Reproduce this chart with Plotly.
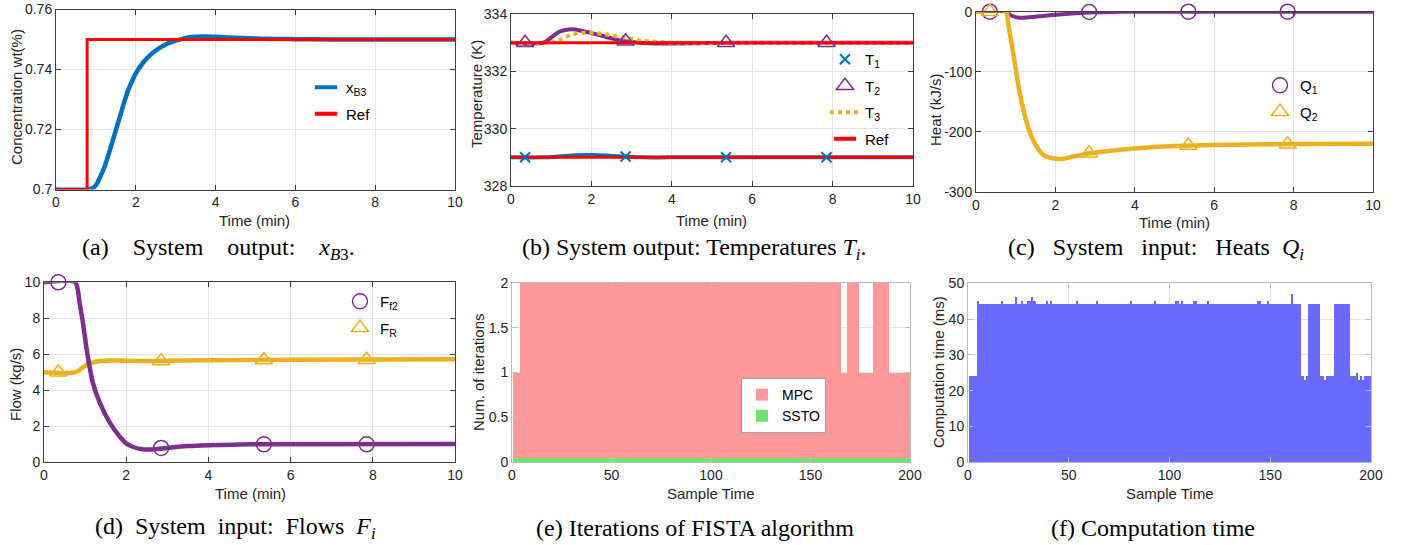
import plotly.graph_objects as go

W, H = 1407, 545

# ---------------- data ----------------
# (a) concentration x_B3
t_xb3 = [0, 0.8, 0.9, 1.0, 1.1, 1.2, 1.3, 1.4, 1.5, 1.6, 1.7, 1.8, 1.9, 2.0, 2.2,
         2.4, 2.6, 2.8, 3.0, 3.2, 3.4, 3.7, 4.0, 4.5, 5.0, 6.0, 7.0, 10.0]
xb3 = [0.7, 0.7, 0.7003, 0.7014, 0.704, 0.707, 0.7109, 0.7153, 0.7198, 0.7242, 0.7287,
       0.7328, 0.7359, 0.7387, 0.7426, 0.7453, 0.7472, 0.7487, 0.7496, 0.7503, 0.7508,
       0.751, 0.7509, 0.7506, 0.7503, 0.7501, 0.75, 0.75]
t_ref_a = [0, 0.78, 0.78, 10]
ref_a = [0.7, 0.7, 0.75, 0.75]

# (b) temperatures
t_T1 = [0, 0.8, 1.2, 1.6, 2.0, 2.4, 2.8, 3.3, 4.0, 10]
T1 = [329, 329, 329.03, 329.07, 329.08, 329.06, 329.03, 329.0, 329.0, 329.0]
t_T2 = [0, 0.8, 1.0, 1.2, 1.5, 1.8, 2.1, 2.5, 2.8, 3.2, 3.6, 4.5, 5.5, 10]
T2 = [333, 333, 333.18, 333.38, 333.47, 333.4, 333.3, 333.15, 333.06, 333.0, 332.97,
      332.98, 333.0, 333.0]
t_T3 = [0, 0.9, 1.2, 1.5, 1.9, 2.3, 2.8, 3.2, 3.6, 4.2, 10]
T3 = [333, 333, 333.1, 333.27, 333.35, 333.3, 333.18, 333.08, 333.03, 333.0, 333.0]
t_ref_b = [0, 10, None, 0, 10]
ref_b = [333, 333, None, 329, 329]

# marker sample times (every 50 samples)
t_mk = [0.35, 2.85, 5.35, 7.85]
T1_mk = [329, 329.03, 329, 329]
T2_mk = [333, 333.05, 333, 333]

# (c) heats
t_Q1 = [0, 0.78, 0.85, 1.0, 1.2, 1.4, 1.7, 2.0, 2.5, 3.0, 3.5, 4.0, 10]
Q1 = [0, 0, -5, -9, -10, -9, -7, -5, -2.5, -1, -0.3, 0, 0]
t_Q2 = [0, 0.76, 0.8, 0.9, 1.0, 1.1, 1.2, 1.3, 1.4, 1.5, 1.6, 1.7, 1.85, 2.0, 2.2,
        2.4, 2.6, 2.86, 3.36, 4.0, 5.0, 6.0, 8.0, 10.0]
Q2 = [0, 0, -15, -55, -95, -135, -165, -190, -208, -222, -232, -239, -243, -245, -245,
      -242, -239.5, -236, -232, -228, -224, -222, -220.5, -220]
Q1_mk = [0, -0.5, 0, 0]
Q2_mk = [0, -236, -223, -221]

# (d) flows
t_Ff2 = [0, 0.76, 0.87, 0.95, 1.03, 1.11, 1.19, 1.36, 1.6, 1.84, 2.0, 2.17, 2.4, 2.7,
         3.0, 3.5, 4.0, 5.0, 10]
Ff2 = [10, 10, 8.8, 7.7, 6.4, 5.3, 4.4, 3.3, 2.2, 1.43, 1.05, 0.85, 0.72, 0.72, 0.8,
       0.9, 0.95, 1.0, 1.02]
t_FR = [0, 0.75, 0.85, 0.95, 1.05, 1.15, 1.3, 1.6, 2.5, 4.0, 6.0, 10]
FR = [5.0, 5.0, 5.1, 5.28, 5.42, 5.52, 5.6, 5.65, 5.63, 5.67, 5.7, 5.72]
Ff2_mk = [10, 0.8, 1.0, 1.0]
FR_mk = [5.0, 5.63, 5.68, 5.7]

# (e) FISTA iterations per sample, (f) computation time per sample
sample = list(range(1, 201))
mpc_iter = [
    1, 1, 1, 1, 2, 2, 2, 2, 2, 2, 2, 2, 2, 2, 2, 2, 2, 2, 2, 2,
    2, 2, 2, 2, 2, 2, 2, 2, 2, 2, 2, 2, 2, 2, 2, 2, 2, 2, 2, 2,
    2, 2, 2, 2, 2, 2, 2, 2, 2, 2, 2, 2, 2, 2, 2, 2, 2, 2, 2, 2,
    2, 2, 2, 2, 2, 2, 2, 2, 2, 2, 2, 2, 2, 2, 2, 2, 2, 2, 2, 2,
    2, 2, 2, 2, 2, 2, 2, 2, 2, 2, 2, 2, 2, 2, 2, 2, 2, 2, 2, 2,
    2, 2, 2, 2, 2, 2, 2, 2, 2, 2, 2, 2, 2, 2, 2, 2, 2, 2, 2, 2,
    2, 2, 2, 2, 2, 2, 2, 2, 2, 2, 2, 2, 2, 2, 2, 2, 2, 2, 2, 2,
    2, 2, 2, 2, 2, 2, 2, 2, 2, 2, 2, 2, 2, 2, 2, 2, 2, 2, 2, 2,
    2, 2, 2, 2, 2, 1, 1, 1, 2, 2, 2, 2, 2, 2, 1, 1, 1, 1, 1, 1,
    1, 2, 2, 2, 2, 2, 2, 2, 2, 1, 1, 1, 1, 1, 1, 1, 1, 1, 1, 1,
]
ssto_iter = [
    0.05, 0.05, 0.05, 0.05, 0.05, 0.05, 0.05, 0.05, 0.05, 0.05, 0.05, 0.05, 0.05, 0.05, 0.05, 0.05, 0.05, 0.05, 0.05, 0.05,
    0.05, 0.05, 0.05, 0.05, 0.05, 0.05, 0.05, 0.05, 0.05, 0.05, 0.05, 0.05, 0.05, 0.05, 0.05, 0.05, 0.05, 0.05, 0.05, 0.05,
    0.05, 0.05, 0.05, 0.05, 0.05, 0.05, 0.05, 0.05, 0.05, 0.05, 0.05, 0.05, 0.05, 0.05, 0.05, 0.05, 0.05, 0.05, 0.05, 0.05,
    0.05, 0.05, 0.05, 0.05, 0.05, 0.05, 0.05, 0.05, 0.05, 0.05, 0.05, 0.05, 0.05, 0.05, 0.05, 0.05, 0.05, 0.05, 0.05, 0.05,
    0.05, 0.05, 0.05, 0.05, 0.05, 0.05, 0.05, 0.05, 0.05, 0.05, 0.05, 0.05, 0.05, 0.05, 0.05, 0.05, 0.05, 0.05, 0.05, 0.05,
    0.05, 0.05, 0.05, 0.05, 0.05, 0.05, 0.05, 0.05, 0.05, 0.05, 0.05, 0.05, 0.05, 0.05, 0.05, 0.05, 0.05, 0.05, 0.05, 0.05,
    0.05, 0.05, 0.05, 0.05, 0.05, 0.05, 0.05, 0.05, 0.05, 0.05, 0.05, 0.05, 0.05, 0.05, 0.05, 0.05, 0.05, 0.05, 0.05, 0.05,
    0.05, 0.05, 0.05, 0.05, 0.05, 0.05, 0.05, 0.05, 0.05, 0.05, 0.05, 0.05, 0.05, 0.05, 0.05, 0.05, 0.05, 0.05, 0.05, 0.05,
    0.05, 0.05, 0.05, 0.05, 0.05, 0.05, 0.05, 0.05, 0.05, 0.05, 0.05, 0.05, 0.05, 0.05, 0.05, 0.05, 0.05, 0.05, 0.05, 0.05,
    0.05, 0.05, 0.05, 0.05, 0.05, 0.05, 0.05, 0.05, 0.05, 0.05, 0.05, 0.05, 0.05, 0.05, 0.05, 0.05, 0.05, 0.05, 0.05, 0.05,
]
comp_ms = [
    24, 24, 24, 24, 45, 44, 44, 44, 44, 44, 44, 44, 44, 44, 44, 44, 45, 44, 44, 44,
    44, 44, 44, 46, 44, 44, 45, 44, 44, 45, 45, 46, 45, 44, 44, 44, 44, 44, 45, 44,
    45, 44, 44, 44, 44, 44, 44, 44, 44, 44, 44, 44, 44, 45, 44, 44, 44, 44, 44, 44,
    44, 44, 44, 45, 44, 44, 44, 44, 44, 44, 44, 44, 44, 44, 44, 44, 44, 44, 44, 44,
    45, 44, 44, 44, 44, 44, 44, 44, 44, 44, 44, 44, 45, 44, 44, 44, 44, 44, 44, 44,
    44, 44, 45, 45, 44, 45, 44, 44, 44, 44, 44, 45, 45, 44, 44, 44, 44, 44, 45, 44,
    44, 44, 44, 44, 44, 44, 44, 44, 44, 44, 44, 44, 44, 44, 44, 44, 44, 44, 44, 44,
    44, 44, 44, 45, 45, 44, 44, 44, 45, 44, 44, 44, 44, 44, 44, 44, 44, 44, 44, 44,
    47, 44, 44, 44, 44, 24, 23, 24, 44, 44, 44, 44, 44, 44, 24, 24, 23, 24, 24, 24,
    24, 44, 44, 44, 44, 44, 44, 44, 44, 24, 24, 24, 25, 23, 24, 23, 24, 24, 24, 24,
]

# tick labels
q_ticks = [-300, -200, -100, 0]
q_ticktext = ["-300", "-200", "-100", "0"]

NB = "\u00a0"
captions = [
    "(a)" + NB * 3 + " System" + NB * 3 + " output:" + NB * 3 + " <i>x</i><sub><i>B</i>3</sub>.",
    "(b) System output: Temperatures <i>T<sub>i</sub></i>.",
    "(c)" + NB * 2 + " System" + NB * 2 + " input:" + NB * 2 + " Heats" + NB + " <i>Q<sub>i</sub></i>",
    "(d)" + NB + " System" + NB + " input:" + NB + " Flows" + NB + " <i>F<sub>i</sub></i>",
    "(e) Iterations of FISTA algorithm",
    "(f) Computation time",
]

# ---------------- style ----------------
BLUE = "#0072BD"
RED = "#FF0000"
PURPLE = "#7E2F8E"
YELLOW = "#EDB120"
PINK = "rgb(255,152,152)"
GREEN = "rgb(110,228,110)"
BARBLUE = "rgb(106,106,255)"
SANS = "Liberation Sans, Arial, sans-serif"
SERIF = "Liberation Serif, Times New Roman, serif"
TXT = "#262626"


def px_x(p):
    return p / W


def px_y(p):
    return 1 - p / H


def xdom(l, r):
    return [px_x(l), px_x(r)]


def ydom(t, b):
    return [px_y(b), px_y(t)]


def axis(domain, rng, anchor, dtick=None, linecolor="#404040", **kw):
    d = dict(domain=domain, range=rng, anchor=anchor, showline=True, mirror="ticks",
             linecolor=linecolor, linewidth=1, ticks="inside", ticklen=5,
             tickcolor=linecolor, showgrid=True, gridcolor="#E3E3E3", gridwidth=1,
             zeroline=False, automargin=False, ticklabeloverflow="allow",
             tickfont=dict(family=SANS, size=14, color=TXT))
    if dtick is not None:
        d["dtick"] = dtick
        d["tick0"] = 0
    d.update(kw)
    return d


def line_glyph(color):
    return dict(symbol="line-ew-open", size=16, color=color, line=dict(color=color, width=4))


fig = go.Figure()

# ---- (a)
fig.add_trace(go.Scatter(x=t_xb3, y=xb3, mode="lines", line=dict(color=BLUE, width=4.5, shape="spline"),
                         xaxis="x", yaxis="y", showlegend=False))
fig.add_trace(go.Scatter(x=t_ref_a, y=ref_a, mode="lines", line=dict(color=RED, width=3),
                         xaxis="x", yaxis="y", showlegend=False))
fig.add_trace(go.Scatter(x=[None], y=[None], mode="markers", name="x<sub>B3</sub>", legend="legend",
                         legendgroup="a1", marker=line_glyph(BLUE), xaxis="x", yaxis="y"))
fig.add_trace(go.Scatter(x=[None], y=[None], mode="markers", name="Ref", legend="legend",
                         legendgroup="a2", marker=line_glyph(RED), xaxis="x", yaxis="y"))

# ---- (b)
fig.add_trace(go.Scatter(x=t_T1, y=T1, mode="lines", line=dict(color=BLUE, width=4, shape="spline"),
                         xaxis="x2", yaxis="y2", showlegend=False))
fig.add_trace(go.Scatter(x=t_T2, y=T2, mode="lines", line=dict(color=PURPLE, width=4, shape="spline"),
                         xaxis="x2", yaxis="y2", showlegend=False))
fig.add_trace(go.Scatter(x=t_T3, y=T3, mode="lines", line=dict(color=YELLOW, width=4, dash="dot", shape="spline"),
                         xaxis="x2", yaxis="y2", showlegend=False))
fig.add_trace(go.Scatter(x=t_ref_b, y=ref_b, mode="lines", line=dict(color=RED, width=3),
                         xaxis="x2", yaxis="y2", showlegend=False))
fig.add_trace(go.Scatter(x=t_mk, y=T1_mk, mode="markers", name="T<sub>1</sub>", legend="legend2",
                         legendgroup="b1", cliponaxis=False,
                         marker=dict(symbol="x-thin-open", size=10, color=BLUE, line=dict(color=BLUE, width=2)),
                         xaxis="x2", yaxis="y2"))
fig.add_trace(go.Scatter(x=t_mk, y=T2_mk, mode="markers", name="T<sub>2</sub>", legend="legend2",
                         legendgroup="b2", cliponaxis=False,
                         marker=dict(symbol="triangle-up-open", size=15, color=PURPLE, line=dict(color=PURPLE, width=1.5)),
                         xaxis="x2", yaxis="y2"))
fig.add_trace(go.Scatter(x=[None], y=[None], mode="lines", name="T<sub>3</sub>", legend="legend2",
                         legendgroup="b3", line=dict(color=YELLOW, width=4, dash="dot"),
                         xaxis="x2", yaxis="y2"))
fig.add_trace(go.Scatter(x=[None], y=[None], mode="markers", name="Ref", legend="legend2",
                         legendgroup="b4", marker=line_glyph(RED), xaxis="x2", yaxis="y2"))

# ---- (c)
fig.add_trace(go.Scatter(x=t_Q1, y=Q1, mode="lines", line=dict(color=PURPLE, width=4, shape="spline"),
                         xaxis="x3", yaxis="y3", showlegend=False))
fig.add_trace(go.Scatter(x=t_Q2, y=Q2, mode="lines", line=dict(color=YELLOW, width=4.5, shape="spline"),
                         xaxis="x3", yaxis="y3", showlegend=False))
fig.add_trace(go.Scatter(x=t_mk, y=Q1_mk, mode="markers", name="Q<sub>1</sub>", legend="legend3",
                         legendgroup="c1", cliponaxis=False,
                         marker=dict(symbol="circle-open", size=15, color=PURPLE, line=dict(color=PURPLE, width=1.5)),
                         xaxis="x3", yaxis="y3"))
fig.add_trace(go.Scatter(x=t_mk, y=Q2_mk, mode="markers", name="Q<sub>2</sub>", legend="legend3",
                         legendgroup="c2", cliponaxis=False,
                         marker=dict(symbol="triangle-up-open", size=15, color=YELLOW, line=dict(color=YELLOW, width=1.5)),
                         xaxis="x3", yaxis="y3"))

# ---- (d)
fig.add_trace(go.Scatter(x=t_FR, y=FR, mode="lines", line=dict(color=YELLOW, width=4.5, shape="spline"),
                         xaxis="x4", yaxis="y4", showlegend=False))
fig.add_trace(go.Scatter(x=t_Ff2, y=Ff2, mode="lines", line=dict(color=PURPLE, width=4.5, shape="spline", smoothing=0.6),
                         xaxis="x4", yaxis="y4", showlegend=False))
fig.add_trace(go.Scatter(x=t_mk, y=Ff2_mk, mode="markers", name="F<sub>f2</sub>", legend="legend4",
                         legendgroup="d1", cliponaxis=False,
                         marker=dict(symbol="circle-open", size=15, color=PURPLE, line=dict(color=PURPLE, width=1.5)),
                         xaxis="x4", yaxis="y4"))
fig.add_trace(go.Scatter(x=t_mk, y=FR_mk, mode="markers", name="F<sub>R</sub>", legend="legend4",
                         legendgroup="d2", cliponaxis=False,
                         marker=dict(symbol="triangle-up-open", size=15, color=YELLOW, line=dict(color=YELLOW, width=1.5)),
                         xaxis="x4", yaxis="y4"))

# ---- (e)
fig.add_trace(go.Bar(x=sample, y=mpc_iter, name="MPC", marker=dict(color=PINK, line=dict(width=0)),
                     xaxis="x5", yaxis="y5", legend="legend5"))
fig.add_trace(go.Bar(x=sample, y=ssto_iter, name="SSTO", marker=dict(color=GREEN, line=dict(width=0)),
                     xaxis="x5", yaxis="y5", legend="legend5"))

# ---- (f)
fig.add_trace(go.Bar(x=sample, y=comp_ms, marker=dict(color=BARBLUE, line=dict(width=0)),
                     xaxis="x6", yaxis="y6", showlegend=False))

LIGHT = "#BDBDBD"
layout = dict(
    width=W, height=H, margin=dict(l=0, r=0, t=0, b=0, pad=0, autoexpand=False),
    paper_bgcolor="white", plot_bgcolor="white",
    barmode="overlay", bargap=0,
    font=dict(family=SANS, size=14, color=TXT),
    xaxis=axis(xdom(56, 455), [0, 10], "y", dtick=2),
    yaxis=axis(ydom(9.5, 189.5), [0.7, 0.76], "x", dtick=0.02),
    xaxis2=axis(xdom(511, 913), [0, 10], "y2", dtick=2),
    yaxis2=axis(ydom(14, 186), [328, 334], "x2", dtick=2),
    xaxis3=axis(xdom(976, 1373), [0, 10], "y3", dtick=2),
    yaxis3=axis(ydom(11.7, 191.7), [-300, 0], "x3", tickmode="array", tickvals=q_ticks, ticktext=q_ticktext),
    xaxis4=axis(xdom(44, 455), [0, 10], "y4", dtick=2),
    yaxis4=axis(ydom(282.3, 462.3), [0, 10], "x4", dtick=2),
    xaxis5=axis(xdom(512, 910), [0, 200], "y5", dtick=50, linecolor=LIGHT),
    yaxis5=axis(ydom(282.7, 462.3), [0, 2], "x5", dtick=0.5, linecolor=LIGHT),
    xaxis6=axis(xdom(968, 1371), [0, 200], "y6", dtick=50, linecolor=LIGHT),
    yaxis6=axis(ydom(283.3, 462.3), [0, 50], "x6", dtick=10, linecolor=LIGHT),
)

leg_common = dict(xanchor="left", yanchor="top", bgcolor="rgba(0,0,0,0)", borderwidth=0,
                  font=dict(family=SANS, size=15, color="#000"), tracegroupgap=4,
                  itemsizing="trace", orientation="v")
layout["legend"] = dict(leg_common, x=px_x(306), y=px_y(71))
layout["legend2"] = dict(leg_common, x=px_x(825), y=px_y(43))
layout["legend3"] = dict(leg_common, x=px_x(1260), y=px_y(69))
layout["legend4"] = dict(leg_common, x=px_x(340), y=px_y(285))
layout["legend5"] = dict(leg_common, x=px_x(741), y=px_y(378), bgcolor="white",
                         bordercolor="#A0A0A0", borderwidth=1, tracegroupgap=0,
                         font=dict(family=SANS, size=14, color="#000"))

ann = []
# x axis titles
for cx, cy, txt in [(255, 221, "Time (min)"), (712, 220, "Time (min)"), (1174, 222, "Time (min)"),
                    (250, 493, "Time (min)"), (711, 493, "Sample Time"), (1170, 493, "Sample Time")]:
    ann.append(dict(x=px_x(cx), y=px_y(cy), xref="paper", yref="paper", text=txt, showarrow=False,
                    xanchor="center", yanchor="middle", font=dict(family=SANS, size=15, color=TXT)))
# y axis titles
for cx, cy, txt in [(17, 97, "Concentration wt(%)"), (476, 94, "Temperature (K)"),
                    (935, 110, "Heat (kJ/s)"), (15, 385, "Flow (kg/s)"),
                    (478, 372, "Num. of iterations"), (938, 372, "Computation time (ms)")]:
    ann.append(dict(x=px_x(cx), y=px_y(cy), xref="paper", yref="paper", text=txt, showarrow=False,
                    textangle=-90, xanchor="center", yanchor="middle",
                    font=dict(family=SANS, size=15, color=TXT)))
# captions
for (cx, cy), txt in zip([(218, 249), (694, 249), (1156, 249), (235, 528), (695, 528), (1153, 528)], captions):
    ann.append(dict(x=px_x(cx), y=px_y(cy), xref="paper", yref="paper", text=txt, showarrow=False,
                    xanchor="center", yanchor="middle", font=dict(family=SERIF, size=24, color="#000")))
layout["annotations"] = ann

fig.update_layout(**layout)
# remove the browser's default 8px page margin so the figure fills the window exactly
fig.write_html("out.html", config={"displayModeBar": False},
               post_script="document.body.style.margin='0';")
